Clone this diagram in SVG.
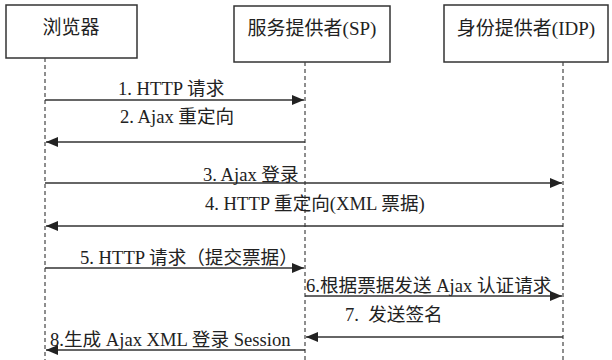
<svg xmlns="http://www.w3.org/2000/svg" width="612" height="360" viewBox="0 0 612 360">
<style>
.box{fill:#fff;stroke:#333;stroke-width:1.5}
.life{stroke:#444;stroke-width:1.2;stroke-dasharray:4 3;fill:none}
.msg{stroke:#333;stroke-width:1.6;fill:none}
text{font-family:"Liberation Serif","Noto Sans CJK SC",serif;font-size:18.6px;fill:#222;white-space:pre}
.t{text-anchor:middle;font-size:19px}
</style>
<defs>
<marker id="ah" markerWidth="12" markerHeight="10" refX="12" refY="5" orient="auto" markerUnits="userSpaceOnUse">
<path d="M0,0 L12,5 L0,10 Z" fill="#222"/>
</marker>
</defs>
<rect width="612" height="360" fill="#fff"/>
<g id="browser">
<rect class="box" x="6" y="5" width="131" height="53"/>
<text class="t" x="71" y="34">浏览器</text>
<line class="life" x1="45" y1="58" x2="45" y2="360"/>
</g>
<g id="sp">
<rect class="box" x="234" y="6" width="156" height="56"/>
<text class="t" x="312" y="35">服务提供者(SP)</text>
<line class="life" x1="305" y1="62" x2="305" y2="360"/>
</g>
<g id="idp">
<rect class="box" x="444" y="5" width="164" height="57"/>
<text class="t" x="526" y="35">身份提供者(IDP)</text>
<line class="life" x1="563" y1="62" x2="563" y2="360"/>
</g>
<g id="connectors">
<line class="msg" x1="45" y1="100" x2="304" y2="100" marker-end="url(#ah)"/>
<text x="118" y="95">1. HTTP 请求</text>
<line class="msg" x1="305" y1="142" x2="46" y2="142" marker-end="url(#ah)"/>
<text x="120" y="123">2. Ajax 重定向</text>
<line class="msg" x1="45" y1="183" x2="562" y2="183" marker-end="url(#ah)"/>
<text x="203" y="181">3. Ajax 登录</text>
<line class="msg" x1="563" y1="226" x2="46" y2="226" marker-end="url(#ah)"/>
<text x="205" y="210">4. HTTP 重定向(XML 票据)</text>
<line class="msg" x1="45" y1="268" x2="304" y2="268" marker-end="url(#ah)"/>
<text x="80" y="264">5. HTTP 请求（提交票据）</text>
<line class="msg" x1="305" y1="296" x2="562" y2="296" marker-end="url(#ah)"/>
<text x="306" y="292">6.根据票据发送 Ajax 认证请求</text>
<line class="msg" x1="563" y1="337" x2="306" y2="337" marker-end="url(#ah)"/>
<text x="345" y="321">7.  发送签名</text>
<line class="msg" x1="305" y1="350" x2="46" y2="350" marker-end="url(#ah)"/>
<text x="50" y="346">8.生成 Ajax XML 登录 Session</text>
</g>
</svg>
